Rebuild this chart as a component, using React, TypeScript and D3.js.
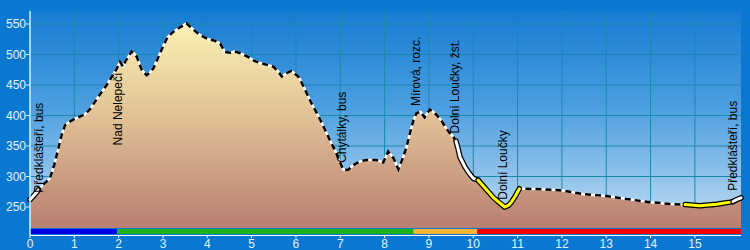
import React, { useEffect } from "react";
import * as d3 from "d3";

// profile: distance (km) and elevation (m)
const distKm = [
  0.0, 0.1, 0.19, 0.3, 0.45, 0.55, 0.64, 0.72, 0.79, 0.9, 1.02, 1.24, 1.35, 1.47, 1.6, 1.73, 1.85, 1.96,
  2.03, 2.1, 2.16, 2.22, 2.29, 2.35, 2.41, 2.52, 2.63, 2.7, 2.78, 2.88, 3.0, 3.1, 3.23, 3.35, 3.53, 3.65,
  3.83, 4.02, 4.15, 4.29, 4.4, 4.52, 4.62, 4.75, 4.92, 5.05, 5.19, 5.35, 5.49, 5.6, 5.68, 5.8, 5.9, 5.98,
  6.05, 6.1, 6.2, 6.35, 6.5, 6.62, 6.75, 6.88, 7.0, 7.07, 7.18, 7.28, 7.37, 7.5, 7.6, 7.82, 7.97, 8.08,
  8.2, 8.31, 8.42, 8.5, 8.57, 8.65, 8.72, 8.81, 8.9, 9.02, 9.1, 9.17, 9.27, 9.36, 9.45, 9.55, 9.61, 9.66,
  9.7, 9.81, 9.9, 10.0, 10.11, 10.22, 10.34, 10.45, 10.56, 10.71, 10.8, 10.87, 10.95, 11.04, 11.17, 11.58,
  12.03, 12.48, 13.01, 13.46, 13.99, 14.44, 14.7, 14.78, 15.11, 15.49, 15.79, 15.86, 15.94, 16.04,
];
const elevM = [
  262, 270, 278, 287, 297, 320, 346, 370, 384, 390, 395, 402, 410, 423, 437, 450, 464, 477,
  488, 480, 490, 496, 505, 502, 496, 475, 466, 470, 477, 493, 513, 528, 537, 543, 551, 543,
  532, 525, 523, 518, 504, 503, 505, 502, 496, 490, 486, 483, 480, 472, 464, 470, 473, 468,
  464, 458, 443, 420, 400, 382, 362, 343, 322, 311, 311, 318, 322, 326, 327, 327, 323, 341,
  330, 312, 332, 350, 371, 392, 404, 406, 397, 410, 406, 401, 393, 382, 373, 365, 358, 345,
  332, 316, 306, 297, 294, 285, 275, 266, 259, 250, 253, 259, 268, 280, 280, 279,
  277, 271, 268, 263, 258, 255, 254, 254, 252, 254.5, 258, 259, 262, 265,
];

// highlighted sections [fromKm, toKm, colour]
const highlightFrom = [0, 9.61, 10.11, 14.78, 15.86];
const highlightTo = [0.19, 10.11, 11.04, 15.86, 16.04];
const highlightColor = ["#ffffff", "#ffffff", "#ffff00", "#ffff00", "#ffffff"];

// coloured route bar
const barFrom = [0, 1.96, 8.65, 10.09];
const barTo = [1.96, 8.65, 10.09, 16.04];
const barColor = ["#0000e6", "#1db31d", "#f7b334", "#f20000"];

// place labels
const placeNames = [
  "Předklášteří, bus",
  "Nad Nelepečí",
  "Chytálky, bus",
  "Mírová, rozc.",
  "Dolní Loučky, žst.",
  "Dolní Loučky",
  "Předklášteří, bus",
];
const placeKm = [0, 2.0, 7.07, 8.72, 9.6, 10.7, 16.04];
const placeBelow = [false, true, false, false, false, false, false];

const xTicks = d3.range(0, 16);
const yTicks = [250, 300, 350, 400, 450, 500, 550];

const W = 750;
const H = 250;

export default function App() {
  useEffect(() => {
    document.body.style.margin = "0";
  }, []);

  const x = d3.scaleLinear().domain([0, 16.04]).range([30, 741]);
  const y = d3.scaleLinear().domain([215.6, 571.3]).range([228, 11]);
  const pts: [number, number][] = distKm.map((d, i) => [d, elevM[i]]);

  const area = d3
    .area<[number, number]>()
    .x((d) => x(d[0]))
    .y0(y(215.6))
    .y1((d) => y(d[1]));
  const line = d3
    .line<[number, number]>()
    .x((d) => x(d[0]))
    .y((d) => y(d[1]));

  const elevAt = (k: number) => {
    const i = d3.bisectLeft(distKm, k);
    if (i <= 0) return elevM[0];
    if (i >= distKm.length) return elevM[elevM.length - 1];
    const t = (k - distKm[i - 1]) / (distKm[i] - distKm[i - 1]);
    return elevM[i - 1] + t * (elevM[i] - elevM[i - 1]);
  };
  const segment = (a: number, b: number): [number, number][] => {
    const inner = pts.filter((p) => p[0] > a && p[0] < b);
    return [[a, elevAt(a)], ...inner, [b, elevAt(b)]];
  };

  const font = "'Liberation Sans', Arial, sans-serif";
  const x0 = x.range()[0];
  const x1 = x.range()[1];
  const yTop = y.range()[1];
  const yBot = y.range()[0];

  return (
    <svg width={W} height={H} style={{ position: "absolute", left: 0, top: 0, display: "block" }}>
      <defs>
        <linearGradient id="bg" x1="0" y1="0" x2="0" y2="1">
          <stop offset="0" stopColor="#167cd3" />
          <stop offset="0.45" stopColor="#4d9fe0" />
          <stop offset="1" stopColor="#c4def3" />
        </linearGradient>
        <linearGradient id="fill" gradientUnits="userSpaceOnUse" x1="0" y1={y(555)} x2="0" y2={yBot}>
          <stop offset="0" stopColor="#fbf2b4" />
          <stop offset="0.45" stopColor="#e2c296" />
          <stop offset="1" stopColor="#b97f72" />
        </linearGradient>
      </defs>
      <rect x={0} y={0} width={W} height={H} fill="#0a78d0" />
      <rect x={x0} y={yTop} width={x1 - x0} height={yBot - yTop} fill="url(#bg)" />
      {/* grid */}
      {xTicks.slice(1).map((t) => (
        <line key={"gx" + t} x1={x(t)} x2={x(t)} y1={yTop} y2={yBot} stroke="#1a89ae" strokeWidth={1} />
      ))}
      {yTicks.map((t) => (
        <line key={"gy" + t} x1={x0} x2={x1} y1={y(t)} y2={y(t)} stroke="#1a89ae" strokeWidth={1} />
      ))}
      {/* profile */}
      <path d={area(pts) || ""} fill="url(#fill)" />
      <path d={line(pts) || ""} fill="none" stroke="#ffffff" strokeWidth={2.5} strokeLinejoin="round" />
      <path d={line(pts) || ""} fill="none" stroke="#000000" strokeWidth={2.5} strokeDasharray="6,4" />
      {highlightFrom.map((a, i) => {
        const seg = segment(a, highlightTo[i]);
        return (
          <g key={"hl" + i}>
            <path d={line(seg) || ""} fill="none" stroke="#000" strokeWidth={5.5} strokeLinecap="round" strokeLinejoin="round" />
            <path d={line(seg) || ""} fill="none" stroke={highlightColor[i]} strokeWidth={3} strokeLinecap="round" strokeLinejoin="round" />
          </g>
        );
      })}
      {/* route bar */}
      {barFrom.map((a, i) => (
        <rect key={"bar" + i} x={x(a)} y={229} width={x(barTo[i]) - x(a)} height={5} fill={barColor[i]} />
      ))}
      {/* axes */}
      <line x1={x0} x2={x0} y1={yTop} y2={235} stroke="#d8f0ff" strokeWidth={1.5} />
      <line x1={x0} x2={x1} y1={235.5} y2={235.5} stroke="#ffffff" strokeWidth={1} />
      {yTicks.map((t) => (
        <g key={"yt" + t}>
          <line x1={x0 - 4} x2={x0} y1={y(t)} y2={y(t)} stroke="#d8f0ff" strokeWidth={1} />
          <text x={x0 - 4} y={y(t)} dy="0.36em" textAnchor="end" fontFamily={font} fontSize={12} fill="#e4f3ff">
            {t}
          </text>
        </g>
      ))}
      {xTicks.map((t) => (
        <g key={"xt" + t}>
          <line x1={x(t)} x2={x(t)} y1={235} y2={238} stroke="#ffffff" strokeWidth={1} />
          <text x={x(t)} y={244} dy="0.36em" textAnchor="middle" fontFamily={font} fontSize={12} fill="#e4f3ff">
            {t}
          </text>
        </g>
      ))}
      {/* place labels */}
      {placeNames.map((name, i) => {
        const px = Math.min(Math.max(x(placeKm[i]) + 3, 43), 737);
        const py = y(elevAt(placeKm[i]));
        const below = placeBelow[i];
        const ty = below ? py + 8 : py - 7;
        return (
          <text
            key={"pl" + i}
            transform={`translate(${px},${ty}) rotate(-90)`}
            textAnchor={below ? "end" : "start"}
            fontFamily={font}
            fontSize={12}
            fill="#000"
          >
            {name}
          </text>
        );
      })}
    </svg>
  );
}
